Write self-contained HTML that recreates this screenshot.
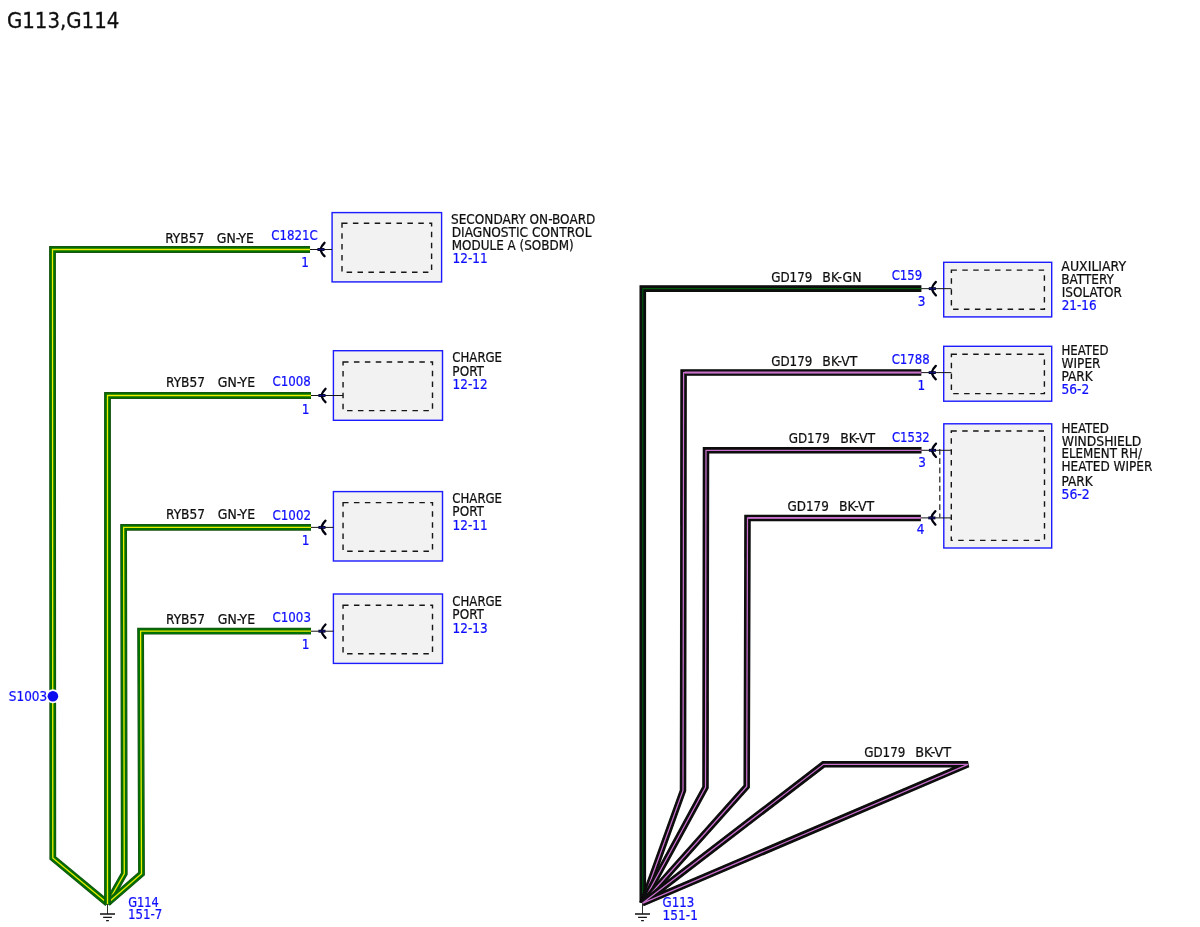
<!DOCTYPE html>
<html lang="en"><head><meta charset="utf-8"><title>G113,G114</title>
<style>
html,body{margin:0;padding:0;background:#fff;}
svg{display:block;font-family:"DejaVu Sans Condensed","DejaVu Sans","Liberation Sans",sans-serif;}
</style></head><body>
<svg width="1200" height="927" viewBox="0 0 1200 927">
<defs><filter id="soft" x="0" y="0" width="1200" height="927" filterUnits="userSpaceOnUse"><feGaussianBlur stdDeviation="0.38"/></filter></defs>
<rect width="1200" height="927" fill="#fff"/>
<g filter="url(#soft)">
<polyline points="310,249.5 52.5,249.5 52.8,858 107.5,903.3" fill="none" stroke-linejoin="miter" stroke-miterlimit="4" stroke="#174c14" stroke-width="6.8"/>
<polyline points="310,249.5 52.5,249.5 52.8,858 107.5,903.3" fill="none" stroke-linejoin="miter" stroke-miterlimit="4" stroke="#067006" stroke-width="5.4"/>
<polyline points="310,249.5 52.5,249.5 52.8,858 107.5,903.3" fill="none" stroke-linejoin="miter" stroke-miterlimit="4" stroke="#ecee00" stroke-width="1.3"/>
<polyline points="311,527.4 123.6,527.4 124.3,873.6 107.5,903.3" fill="none" stroke-linejoin="miter" stroke-miterlimit="4" stroke="#174c14" stroke-width="6.8"/>
<polyline points="311,527.4 123.6,527.4 124.3,873.6 107.5,903.3" fill="none" stroke-linejoin="miter" stroke-miterlimit="4" stroke="#067006" stroke-width="5.4"/>
<polyline points="311,527.4 123.6,527.4 124.3,873.6 107.5,903.3" fill="none" stroke-linejoin="miter" stroke-miterlimit="4" stroke="#ecee00" stroke-width="1.3"/>
<polyline points="311,631.2 140.6,631.2 141.5,873.8 107.5,903.3" fill="none" stroke-linejoin="miter" stroke-miterlimit="4" stroke="#174c14" stroke-width="6.8"/>
<polyline points="311,631.2 140.6,631.2 141.5,873.8 107.5,903.3" fill="none" stroke-linejoin="miter" stroke-miterlimit="4" stroke="#067006" stroke-width="5.4"/>
<polyline points="311,631.2 140.6,631.2 141.5,873.8 107.5,903.3" fill="none" stroke-linejoin="miter" stroke-miterlimit="4" stroke="#ecee00" stroke-width="1.3"/>
<polyline points="311,395.5 107.5,395.5 107.5,904.8" fill="none" stroke-linejoin="miter" stroke-miterlimit="4" stroke="#174c14" stroke-width="6.8"/>
<polyline points="311,395.5 107.5,395.5 107.5,904.8" fill="none" stroke-linejoin="miter" stroke-miterlimit="4" stroke="#067006" stroke-width="5.4"/>
<polyline points="311,395.5 107.5,395.5 107.5,904.8" fill="none" stroke-linejoin="miter" stroke-miterlimit="4" stroke="#ecee00" stroke-width="1.3"/>
<path d="M107.5,904 V914" fill="none" stroke="#333" stroke-width="1"/>
<path d="M100.0,914 H115.0 M103.1,917.3 H111.9 M106.1,920.7 H108.9" fill="none" stroke="#151515" stroke-width="1.3"/>
<rect x="332.1" y="212.6" width="109.5" height="69.3" fill="#f2f2f2" stroke="#1a1aff" stroke-width="1.4"/>
<rect x="342" y="223.3" width="89.6" height="48.9" fill="none" stroke="#161616" stroke-width="1.4" stroke-dasharray="5.5 5.4"/>
<rect x="333.4" y="350.7" width="109.1" height="69.6" fill="#f2f2f2" stroke="#1a1aff" stroke-width="1.4"/>
<rect x="343.05" y="362" width="89.45" height="48.6" fill="none" stroke="#161616" stroke-width="1.4" stroke-dasharray="5.5 5.4"/>
<rect x="333.4" y="491.6" width="109.1" height="69.4" fill="#f2f2f2" stroke="#1a1aff" stroke-width="1.4"/>
<rect x="343.05" y="502.6" width="89.45" height="48.7" fill="none" stroke="#161616" stroke-width="1.4" stroke-dasharray="5.5 5.4"/>
<rect x="333.4" y="594" width="109.1" height="69.4" fill="#f2f2f2" stroke="#1a1aff" stroke-width="1.4"/>
<rect x="343.05" y="605.2" width="89.45" height="48.6" fill="none" stroke="#161616" stroke-width="1.4" stroke-dasharray="5.5 5.4"/>
<line x1="310" y1="249.5" x2="332" y2="249.5" stroke="#161616" stroke-width="1"/>
<path d="M324.5,242.8 C323.1,244.1 321.1,247.0 320.3,249.5 C321.1,252.0 323.1,254.9 324.5,256.2" fill="none" stroke="#040410" stroke-width="2.3" stroke-linecap="round"/>
<line x1="317.4" y1="249.5" x2="324.5" y2="249.5" stroke="#06062a" stroke-width="2.9"/>
<line x1="318.2" y1="249.5" x2="323.8" y2="249.5" stroke="#1616b0" stroke-width="0.9" stroke-dasharray="2.2 1.2"/>
<line x1="311" y1="395.5" x2="343.05" y2="395.5" stroke="#161616" stroke-width="1"/>
<path d="M325.5,388.8 C324.1,390.1 322.1,393.0 321.3,395.5 C322.1,398.0 324.1,400.9 325.5,402.2" fill="none" stroke="#040410" stroke-width="2.3" stroke-linecap="round"/>
<line x1="318.4" y1="395.5" x2="325.5" y2="395.5" stroke="#06062a" stroke-width="2.9"/>
<line x1="319.2" y1="395.5" x2="324.8" y2="395.5" stroke="#1616b0" stroke-width="0.9" stroke-dasharray="2.2 1.2"/>
<line x1="311" y1="527.4" x2="333.5" y2="527.4" stroke="#161616" stroke-width="1"/>
<path d="M325.5,520.7 C324.1,522.0 322.1,524.9 321.3,527.4 C322.1,529.9 324.1,532.8 325.5,534.1" fill="none" stroke="#040410" stroke-width="2.3" stroke-linecap="round"/>
<line x1="318.4" y1="527.4" x2="325.5" y2="527.4" stroke="#06062a" stroke-width="2.9"/>
<line x1="319.2" y1="527.4" x2="324.8" y2="527.4" stroke="#1616b0" stroke-width="0.9" stroke-dasharray="2.2 1.2"/>
<line x1="311" y1="631.2" x2="333.5" y2="631.2" stroke="#161616" stroke-width="1"/>
<path d="M325.5,624.5 C324.1,625.8 322.1,628.7 321.3,631.2 C322.1,633.7 324.1,636.6 325.5,637.9" fill="none" stroke="#040410" stroke-width="2.3" stroke-linecap="round"/>
<line x1="318.4" y1="631.2" x2="325.5" y2="631.2" stroke="#06062a" stroke-width="2.9"/>
<line x1="319.2" y1="631.2" x2="324.8" y2="631.2" stroke="#1616b0" stroke-width="0.9" stroke-dasharray="2.2 1.2"/>
<circle cx="52.9" cy="696.2" r="7" fill="#fff"/>
<circle cx="52.9" cy="696.2" r="5.3" fill="#0808f0"/>
<polyline points="921.4,288.65 642.8,288.65 642.8,902.5" fill="none" stroke-linejoin="miter" stroke-miterlimit="4" stroke="#080808" stroke-width="6.6"/>
<polyline points="921.4,288.65 642.8,288.65 642.8,902.5" fill="none" stroke-linejoin="miter" stroke-miterlimit="4" stroke="#055c08" stroke-width="1.1"/>
<polyline points="921.3,372.6 683.6,372.6 683.0,790.5 642.4,903.3" fill="none" stroke-linejoin="miter" stroke-miterlimit="4" stroke="#080808" stroke-width="6.5"/>
<polyline points="921.3,372.6 683.6,372.6 683.0,790.5 642.4,903.3" fill="none" stroke-linejoin="miter" stroke-miterlimit="4" stroke="#c870cc" stroke-width="1.3"/>
<polyline points="921.5,450.3 706,450.3 705.5,787.4 642.4,903.3" fill="none" stroke-linejoin="miter" stroke-miterlimit="4" stroke="#080808" stroke-width="6.5"/>
<polyline points="921.5,450.3 706,450.3 705.5,787.4 642.4,903.3" fill="none" stroke-linejoin="miter" stroke-miterlimit="4" stroke="#c870cc" stroke-width="1.3"/>
<polyline points="920.9,517.9 747.5,517.9 746.7,786.4 642.4,903.3" fill="none" stroke-linejoin="miter" stroke-miterlimit="4" stroke="#080808" stroke-width="6.5"/>
<polyline points="920.9,517.9 747.5,517.9 746.7,786.4 642.4,903.3" fill="none" stroke-linejoin="miter" stroke-miterlimit="4" stroke="#c870cc" stroke-width="1.3"/>
<polyline points="642.4,903.3 823.5,764.3 968,764.3 642.4,903.3" fill="none" stroke-linejoin="miter" stroke-miterlimit="4" stroke="#080808" stroke-width="6.5"/>
<polyline points="642.4,903.3 823.5,764.3 968,764.3 642.4,903.3" fill="none" stroke-linejoin="miter" stroke-miterlimit="4" stroke="#c870cc" stroke-width="1.3"/>
<line x1="921.3" y1="372.6" x2="684.4" y2="372.6" stroke="#c870cc" stroke-width="2.0"/>
<line x1="920.9" y1="517.9" x2="748.3" y2="517.9" stroke="#c870cc" stroke-width="1.6"/>
<path d="M642.5,903.5 V914" fill="none" stroke="#333" stroke-width="1"/>
<path d="M635.0,914 H650.0 M638.1,917.3 H646.9 M641.1,920.7 H643.9" fill="none" stroke="#151515" stroke-width="1.3"/>
<rect x="943.7" y="262.3" width="108.0" height="54.6" fill="#f2f2f2" stroke="#1a1aff" stroke-width="1.4"/>
<rect x="951.4" y="270.1" width="93.0" height="39.2" fill="none" stroke="#161616" stroke-width="1.4" stroke-dasharray="5.5 5.4"/>
<rect x="943.7" y="346.3" width="108.0" height="54.9" fill="#f2f2f2" stroke="#1a1aff" stroke-width="1.4"/>
<rect x="951.4" y="354.3" width="93.0" height="39.3" fill="none" stroke="#161616" stroke-width="1.4" stroke-dasharray="5.5 5.4"/>
<rect x="943.8" y="423.8" width="107.9" height="124.2" fill="#f2f2f2" stroke="#1a1aff" stroke-width="1.4"/>
<rect x="951.3" y="431" width="93.2" height="109.4" fill="none" stroke="#161616" stroke-width="1.4" stroke-dasharray="5.5 5.4"/>
<line x1="921.4" y1="288.65" x2="951.4" y2="288.65" stroke="#161616" stroke-width="1"/>
<path d="M935.9,281.95 C934.5,283.25 932.5,286.15 931.7,288.65 C932.5,291.15 934.5,294.05 935.9,295.35" fill="none" stroke="#040410" stroke-width="2.3" stroke-linecap="round"/>
<line x1="928.8" y1="288.65" x2="935.9" y2="288.65" stroke="#06062a" stroke-width="2.9"/>
<line x1="929.6" y1="288.65" x2="935.2" y2="288.65" stroke="#1616b0" stroke-width="0.9" stroke-dasharray="2.2 1.2"/>
<line x1="921.3" y1="372.6" x2="951.4" y2="372.6" stroke="#161616" stroke-width="1"/>
<path d="M935.8,365.9 C934.4,367.2 932.4,370.1 931.6,372.6 C932.4,375.1 934.4,378.0 935.8,379.3" fill="none" stroke="#040410" stroke-width="2.3" stroke-linecap="round"/>
<line x1="928.7" y1="372.6" x2="935.8" y2="372.6" stroke="#06062a" stroke-width="2.9"/>
<line x1="929.5" y1="372.6" x2="935.1" y2="372.6" stroke="#1616b0" stroke-width="0.9" stroke-dasharray="2.2 1.2"/>
<line x1="921.5" y1="450.3" x2="951.3" y2="450.3" stroke="#161616" stroke-width="1"/>
<path d="M936.0,443.6 C934.6,444.9 932.6,447.8 931.8,450.3 C932.6,452.8 934.6,455.7 936.0,457.0" fill="none" stroke="#040410" stroke-width="2.3" stroke-linecap="round"/>
<line x1="928.9" y1="450.3" x2="936.0" y2="450.3" stroke="#06062a" stroke-width="2.9"/>
<line x1="929.7" y1="450.3" x2="935.3" y2="450.3" stroke="#1616b0" stroke-width="0.9" stroke-dasharray="2.2 1.2"/>
<line x1="920.9" y1="517.9" x2="951.3" y2="517.9" stroke="#161616" stroke-width="1"/>
<path d="M935.4,511.2 C934.0,512.5 932.0,515.4 931.2,517.9 C932.0,520.4 934.0,523.3 935.4,524.6" fill="none" stroke="#040410" stroke-width="2.3" stroke-linecap="round"/>
<line x1="928.3" y1="517.9" x2="935.4" y2="517.9" stroke="#06062a" stroke-width="2.9"/>
<line x1="929.1" y1="517.9" x2="934.7" y2="517.9" stroke="#1616b0" stroke-width="0.9" stroke-dasharray="2.2 1.2"/>
<line x1="939.8" y1="449" x2="939.8" y2="517.5" stroke="#222" stroke-width="1.2" stroke-dasharray="5.8 3.4"/>
<text x="165.16" y="242.5" fill="#111111" stroke="#111111" stroke-width="0.22" font-size="13.4" textLength="39.1" lengthAdjust="spacingAndGlyphs">RYB57</text>
<text x="216.76" y="242.5" fill="#111111" stroke="#111111" stroke-width="0.22" font-size="13.4" textLength="37.2" lengthAdjust="spacingAndGlyphs">GN-YE</text>
<text x="271.2" y="240.1" fill="#1010ff" stroke="#1010ff" stroke-width="0.22" font-size="13.4" textLength="46.57" lengthAdjust="spacingAndGlyphs">C1821C</text>
<text x="301.26" y="267.4" fill="#1010ff" stroke="#1010ff" stroke-width="0.22" font-size="13.4">1</text>
<text x="166.06" y="387.2" fill="#111111" stroke="#111111" stroke-width="0.22" font-size="13.4" textLength="39.0" lengthAdjust="spacingAndGlyphs">RYB57</text>
<text x="217.86" y="387.2" fill="#111111" stroke="#111111" stroke-width="0.22" font-size="13.4" textLength="37.2" lengthAdjust="spacingAndGlyphs">GN-YE</text>
<text x="272.48" y="385.8" fill="#1010ff" stroke="#1010ff" stroke-width="0.22" font-size="13.4" textLength="38.44" lengthAdjust="spacingAndGlyphs">C1008</text>
<text x="301.86" y="413.7" fill="#1010ff" stroke="#1010ff" stroke-width="0.22" font-size="13.4">1</text>
<text x="166.06" y="519.4" fill="#111111" stroke="#111111" stroke-width="0.22" font-size="13.4" textLength="39.0" lengthAdjust="spacingAndGlyphs">RYB57</text>
<text x="217.86" y="519.4" fill="#111111" stroke="#111111" stroke-width="0.22" font-size="13.4" textLength="37.2" lengthAdjust="spacingAndGlyphs">GN-YE</text>
<text x="272.48" y="520.3" fill="#1010ff" stroke="#1010ff" stroke-width="0.22" font-size="13.4" textLength="38.55" lengthAdjust="spacingAndGlyphs">C1002</text>
<text x="301.86" y="545.0" fill="#1010ff" stroke="#1010ff" stroke-width="0.22" font-size="13.4">1</text>
<text x="166.06" y="624.1" fill="#111111" stroke="#111111" stroke-width="0.22" font-size="13.4" textLength="39.0" lengthAdjust="spacingAndGlyphs">RYB57</text>
<text x="217.86" y="624.1" fill="#111111" stroke="#111111" stroke-width="0.22" font-size="13.4" textLength="37.2" lengthAdjust="spacingAndGlyphs">GN-YE</text>
<text x="272.49" y="621.9" fill="#1010ff" stroke="#1010ff" stroke-width="0.22" font-size="13.4" textLength="38.47" lengthAdjust="spacingAndGlyphs">C1003</text>
<text x="301.86" y="649.0" fill="#1010ff" stroke="#1010ff" stroke-width="0.22" font-size="13.4">1</text>
<text x="451.03" y="223.7" fill="#111111" stroke="#111111" stroke-width="0.22" font-size="13.4" textLength="144.42" lengthAdjust="spacingAndGlyphs">SECONDARY ON-BOARD</text>
<text x="451.66" y="237.0" fill="#111111" stroke="#111111" stroke-width="0.22" font-size="13.4" textLength="139.82" lengthAdjust="spacingAndGlyphs">DIAGNOSTIC CONTROL</text>
<text x="451.69" y="249.7" fill="#111111" stroke="#111111" stroke-width="0.22" font-size="13.4" textLength="122.0" lengthAdjust="spacingAndGlyphs">MODULE A (SOBDM)</text>
<text x="452.59" y="263.3" fill="#1010ff" stroke="#1010ff" stroke-width="0.22" font-size="13.4" textLength="35.14" lengthAdjust="spacingAndGlyphs">12-11</text>
<text x="452.34" y="362.3" fill="#111111" stroke="#111111" stroke-width="0.22" font-size="13.4" textLength="49.72" lengthAdjust="spacingAndGlyphs">CHARGE</text>
<text x="452.36" y="375.5" fill="#111111" stroke="#111111" stroke-width="0.22" font-size="13.4" textLength="31.59" lengthAdjust="spacingAndGlyphs">PORT</text>
<text x="452.6" y="388.7" fill="#1010ff" stroke="#1010ff" stroke-width="0.22" font-size="13.4" textLength="34.95" lengthAdjust="spacingAndGlyphs">12-12</text>
<text x="452.34" y="502.8" fill="#111111" stroke="#111111" stroke-width="0.22" font-size="13.4" textLength="49.72" lengthAdjust="spacingAndGlyphs">CHARGE</text>
<text x="452.36" y="515.8" fill="#111111" stroke="#111111" stroke-width="0.22" font-size="13.4" textLength="31.59" lengthAdjust="spacingAndGlyphs">PORT</text>
<text x="452.59" y="529.5" fill="#1010ff" stroke="#1010ff" stroke-width="0.22" font-size="13.4" textLength="35.14" lengthAdjust="spacingAndGlyphs">12-11</text>
<text x="452.34" y="605.6" fill="#111111" stroke="#111111" stroke-width="0.22" font-size="13.4" textLength="49.72" lengthAdjust="spacingAndGlyphs">CHARGE</text>
<text x="452.36" y="618.6" fill="#111111" stroke="#111111" stroke-width="0.22" font-size="13.4" textLength="31.59" lengthAdjust="spacingAndGlyphs">PORT</text>
<text x="452.6" y="632.8" fill="#1010ff" stroke="#1010ff" stroke-width="0.22" font-size="13.4" textLength="35.01" lengthAdjust="spacingAndGlyphs">12-13</text>
<text x="8.83" y="700.8" fill="#1010ff" stroke="#1010ff" stroke-width="0.22" font-size="13.4" textLength="38.29" lengthAdjust="spacingAndGlyphs">S1003</text>
<text x="128.19" y="906.9" fill="#1010ff" stroke="#1010ff" stroke-width="0.22" font-size="13.4" textLength="30.57" lengthAdjust="spacingAndGlyphs">G114</text>
<text x="128.01" y="919.4" fill="#1010ff" stroke="#1010ff" stroke-width="0.22" font-size="13.4" textLength="34.42" lengthAdjust="spacingAndGlyphs">151-7</text>
<text x="771.19" y="281.8" fill="#111111" stroke="#111111" stroke-width="0.22" font-size="13.4" textLength="41.2" lengthAdjust="spacingAndGlyphs">GD179</text>
<text x="822.36" y="281.8" fill="#111111" stroke="#111111" stroke-width="0.22" font-size="13.4" textLength="39.18" lengthAdjust="spacingAndGlyphs">BK-GN</text>
<text x="891.69" y="280.4" fill="#1010ff" stroke="#1010ff" stroke-width="0.22" font-size="13.4" textLength="30.5" lengthAdjust="spacingAndGlyphs">C159</text>
<text x="917.67" y="305.8" fill="#1010ff" stroke="#1010ff" stroke-width="0.22" font-size="13.4">3</text>
<text x="771.19" y="365.8" fill="#111111" stroke="#111111" stroke-width="0.22" font-size="13.4" textLength="41.2" lengthAdjust="spacingAndGlyphs">GD179</text>
<text x="822.37" y="365.8" fill="#111111" stroke="#111111" stroke-width="0.22" font-size="13.4" textLength="34.96" lengthAdjust="spacingAndGlyphs">BK-VT</text>
<text x="891.69" y="364.2" fill="#1010ff" stroke="#1010ff" stroke-width="0.22" font-size="13.4" textLength="38.0" lengthAdjust="spacingAndGlyphs">C1788</text>
<text x="917.56" y="389.5" fill="#1010ff" stroke="#1010ff" stroke-width="0.22" font-size="13.4">1</text>
<text x="788.69" y="443.3" fill="#111111" stroke="#111111" stroke-width="0.22" font-size="13.4" textLength="41.2" lengthAdjust="spacingAndGlyphs">GD179</text>
<text x="840.17" y="443.3" fill="#111111" stroke="#111111" stroke-width="0.22" font-size="13.4" textLength="34.96" lengthAdjust="spacingAndGlyphs">BK-VT</text>
<text x="891.99" y="442.1" fill="#1010ff" stroke="#1010ff" stroke-width="0.22" font-size="13.4" textLength="37.7" lengthAdjust="spacingAndGlyphs">C1532</text>
<text x="918.17" y="467.0" fill="#1010ff" stroke="#1010ff" stroke-width="0.22" font-size="13.4">3</text>
<text x="787.49" y="511.0" fill="#111111" stroke="#111111" stroke-width="0.22" font-size="13.4" textLength="41.3" lengthAdjust="spacingAndGlyphs">GD179</text>
<text x="839.07" y="511.0" fill="#111111" stroke="#111111" stroke-width="0.22" font-size="13.4" textLength="35.12" lengthAdjust="spacingAndGlyphs">BK-VT</text>
<text x="916.82" y="533.6" fill="#1010ff" stroke="#1010ff" stroke-width="0.22" font-size="13.4">4</text>
<text x="864.19" y="757.1" fill="#111111" stroke="#111111" stroke-width="0.22" font-size="13.4" textLength="41.2" lengthAdjust="spacingAndGlyphs">GD179</text>
<text x="915.17" y="757.1" fill="#111111" stroke="#111111" stroke-width="0.22" font-size="13.4" textLength="36.0" lengthAdjust="spacingAndGlyphs">BK-VT</text>
<text x="1061.38" y="271.0" fill="#111111" stroke="#111111" stroke-width="0.22" font-size="13.4" textLength="64.7" lengthAdjust="spacingAndGlyphs">AUXILIARY</text>
<text x="1061.27" y="284.0" fill="#111111" stroke="#111111" stroke-width="0.22" font-size="13.4" textLength="52.65" lengthAdjust="spacingAndGlyphs">BATTERY</text>
<text x="1061.84" y="297.1" fill="#111111" stroke="#111111" stroke-width="0.22" font-size="13.4" textLength="60.0" lengthAdjust="spacingAndGlyphs">ISOLATOR</text>
<text x="1061.72" y="310.2" fill="#1010ff" stroke="#1010ff" stroke-width="0.22" font-size="13.4" textLength="34.87" lengthAdjust="spacingAndGlyphs">21-16</text>
<text x="1061.49" y="355.3" fill="#111111" stroke="#111111" stroke-width="0.22" font-size="13.4" textLength="47.0" lengthAdjust="spacingAndGlyphs">HEATED</text>
<text x="1061.57" y="368.1" fill="#111111" stroke="#111111" stroke-width="0.22" font-size="13.4" textLength="38.93" lengthAdjust="spacingAndGlyphs">WIPER</text>
<text x="1061.56" y="381.3" fill="#111111" stroke="#111111" stroke-width="0.22" font-size="13.4" textLength="31.2" lengthAdjust="spacingAndGlyphs">PARK</text>
<text x="1061.5" y="394.3" fill="#1010ff" stroke="#1010ff" stroke-width="0.22" font-size="13.4" textLength="27.72" lengthAdjust="spacingAndGlyphs">56-2</text>
<text x="1061.49" y="432.9" fill="#111111" stroke="#111111" stroke-width="0.22" font-size="13.4" textLength="47.57" lengthAdjust="spacingAndGlyphs">HEATED</text>
<text x="1061.76" y="445.8" fill="#111111" stroke="#111111" stroke-width="0.22" font-size="13.4" textLength="79.5" lengthAdjust="spacingAndGlyphs">WINDSHIELD</text>
<text x="1061.46" y="458.2" fill="#111111" stroke="#111111" stroke-width="0.22" font-size="13.4" textLength="80.48" lengthAdjust="spacingAndGlyphs">ELEMENT RH/</text>
<text x="1061.49" y="470.8" fill="#111111" stroke="#111111" stroke-width="0.22" font-size="13.4" textLength="90.8" lengthAdjust="spacingAndGlyphs">HEATED WIPER</text>
<text x="1061.56" y="485.5" fill="#111111" stroke="#111111" stroke-width="0.22" font-size="13.4" textLength="31.2" lengthAdjust="spacingAndGlyphs">PARK</text>
<text x="1061.47" y="498.6" fill="#1010ff" stroke="#1010ff" stroke-width="0.22" font-size="13.4" textLength="28.31" lengthAdjust="spacingAndGlyphs">56-2</text>
<text x="662.58" y="907.3" fill="#1010ff" stroke="#1010ff" stroke-width="0.22" font-size="13.4" textLength="31.7" lengthAdjust="spacingAndGlyphs">G113</text>
<text x="662.49" y="919.5" fill="#1010ff" stroke="#1010ff" stroke-width="0.22" font-size="13.4" textLength="35.41" lengthAdjust="spacingAndGlyphs">151-1</text>
<text x="6.96" y="28.0" fill="#111111" stroke="#111111" stroke-width="0.3" font-size="21.5" textLength="112.38" lengthAdjust="spacingAndGlyphs">G113,G114</text>
</g>
</svg>
</body></html>
